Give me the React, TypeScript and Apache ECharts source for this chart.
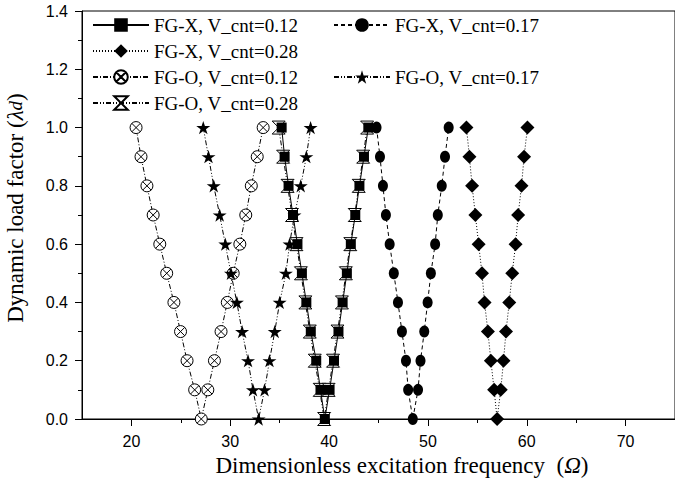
import React, { useEffect, useRef } from "react";
import * as echarts from "echarts";

// Shared y values (dynamic load factor) for every V-shaped curve
const yLevels = [1.0, 0.9, 0.8, 0.7, 0.6, 0.5, 0.4, 0.3, 0.2, 0.1, 0.0, 0.1, 0.2, 0.3, 0.4, 0.5, 0.6, 0.7, 0.8, 0.9, 1.0];

// x values (dimensionless excitation frequency) per series
const fgX012 = [35.2, 35.5, 35.9, 36.35, 36.8, 37.25, 37.7, 38.15, 38.7, 39.13, 39.57, 40.05, 40.5, 40.95, 41.37, 41.8, 42.2, 42.65, 43.07, 43.53, 43.97];
const fgX017 = [44.8, 45.15, 45.45, 45.75, 46.13, 46.55, 46.97, 47.37, 47.78, 48.0, 48.47, 49.0, 49.25, 49.63, 49.97, 50.3, 50.73, 51.0, 51.4, 51.73, 52.1];
const fgX028 = [53.9, 54.2, 54.47, 54.8, 55.13, 55.47, 55.73, 56.07, 56.37, 56.7, 57.0, 57.37, 57.65, 57.9, 58.23, 58.53, 58.87, 59.13, 59.47, 59.73, 60.07];
const fgO012 = [20.47, 20.97, 21.57, 22.2, 22.87, 23.57, 24.3, 24.97, 25.63, 26.4, 27.07, 27.73, 28.4, 29.07, 29.7, 30.3, 30.97, 31.57, 32.13, 32.73, 33.33];
const fgO017 = [27.27, 27.8, 28.33, 28.93, 29.5, 30.07, 30.67, 31.2, 31.8, 32.3, 32.87, 33.47, 33.97, 34.5, 35.0, 35.63, 36.0, 36.5, 37.13, 37.7, 38.13];
const fgO028 = [34.9, 35.35, 35.8, 36.25, 36.7, 37.15, 37.6, 38.05, 38.55, 39.05, 39.5, 39.95, 40.4, 40.85, 41.3, 41.7, 42.15, 42.6, 43.0, 43.45, 43.85];

const seriesNames = [
  "FG-X, V_cnt=0.12",
  "FG-X, V_cnt=0.17",
  "FG-X, V_cnt=0.28",
  "FG-O, V_cnt=0.12",
  "FG-O, V_cnt=0.17",
  "FG-O, V_cnt=0.28",
];

const xMin = 15;
const xMax = 75;
const xMajorTicks = [20, 30, 40, 50, 60, 70];
const xMinorTicks = [25, 35, 45, 55, 65];
const yMin = 0;
const yMax = 1.4;
const yStep = 0.2;

const CROSS_CIRCLE =
  "path://M0 10A10 10 0 1 1 20 10A10 10 0 1 1 0 10ZM2.93 2.93L17.07 17.07M17.07 2.93L2.93 17.07";
const STAR =
  "path://M10 0L12.25 6.91L19.51 6.91L13.63 11.18L15.88 18.09L10 13.82L4.12 18.09L6.37 11.18L0.49 6.91L7.75 6.91Z";
const HOURGLASS = "path://M0 0L20 0L0 20L20 20Z";

const SERIF = "'Liberation Serif', 'Times New Roman', serif";
const SANS = "'Liberation Sans', Arial, sans-serif";

function makeSeries(
  name: string,
  xs: number[],
  symbol: string,
  size: number | number[],
  dash: any,
  fill: string,
  z: number
) {
  return {
    name,
    type: "line",
    data: xs.map((x, i) => [x, yLevels[i]]),
    symbol,
    symbolSize: size,
    symbolKeepAspect: true,
    showSymbol: true,
    z,
    lineStyle: { color: "#000", width: 1, type: dash },
    itemStyle: {
      color: fill,
      borderColor: "#000",
      borderWidth: fill === "#000" ? 0 : 1,
    },
    emphasis: { disabled: true },
  };
}

export default function App() {
  const ref = useRef<HTMLDivElement>(null);

  useEffect(() => {
    if (!ref.current) return;
    const chart = echarts.init(ref.current, undefined, { renderer: "svg" });

    const legendCommon = {
      orient: "vertical",
      padding: 0,
      itemWidth: 56,
      itemHeight: 17,
      selectedMode: false,
      textStyle: { fontFamily: SERIF, fontSize: 19, color: "#000", lineHeight: 20 },
    };

    chart.setOption({
      animation: false,
      backgroundColor: "#fff",
      grid: {
        left: 82,
        top: 11,
        width: 600,
        height: 408,
        show: true,
        borderColor: "#000",
        borderWidth: 1,
        backgroundColor: "transparent",
      },
      legend: [
        {
          ...legendCommon,
          left: 92,
          top: 15,
          itemGap: 6,
          data: [seriesNames[0], seriesNames[2], seriesNames[3], seriesNames[5]],
        },
        {
          ...legendCommon,
          left: 333,
          top: 15,
          itemGap: 32,
          data: [seriesNames[1], seriesNames[4]],
        },
      ],
      xAxis: [
        {
          type: "value",
          min: xMin,
          max: xMax,
          axisLine: { show: true, lineStyle: { color: "#000", width: 1 } },
          axisTick: {
            show: true,
            inside: false,
            length: 7,
            customValues: xMajorTicks,
            lineStyle: { color: "#000" },
          },
          axisLabel: {
            customValues: xMajorTicks,
            margin: 14,
            color: "#000",
            fontFamily: SANS,
            fontSize: 16,
          },
          splitLine: { show: false },
        },
        {
          type: "value",
          position: "bottom",
          min: xMin,
          max: xMax,
          axisLine: { show: false },
          axisTick: {
            show: true,
            inside: false,
            length: 4,
            customValues: xMinorTicks,
            lineStyle: { color: "#000" },
          },
          axisLabel: { show: false },
          splitLine: { show: false },
        },
      ],
      yAxis: {
        type: "value",
        min: yMin,
        max: yMax,
        interval: yStep,
        axisLine: { show: true, lineStyle: { color: "#000", width: 1 } },
        axisTick: { show: true, inside: false, length: 7, lineStyle: { color: "#000" } },
        minorTick: { show: true, splitNumber: 2, length: 4, lineStyle: { color: "#000" } },
        axisLabel: {
          margin: 14,
          color: "#000",
          fontFamily: SANS,
          fontSize: 16,
          formatter: (v: number) => v.toFixed(1),
        },
        splitLine: { show: false },
      },
      series: [
        makeSeries(seriesNames[0], fgX012, "rect", 10, "solid", "#000", 4),
        makeSeries(seriesNames[1], fgX017, "circle", [10, 12], [4, 3], "#000", 2),
        makeSeries(seriesNames[2], fgX028, "diamond", 14, [1, 2], "#000", 2),
        makeSeries(seriesNames[3], fgO012, CROSS_CIRCLE, 12, [5, 2, 1, 2], "#fff", 2),
        makeSeries(seriesNames[4], fgO017, STAR, 14, [5, 2, 1, 2, 1, 2], "#000", 2),
        makeSeries(seriesNames[5], fgO028, HOURGLASS, 13, [5, 2, 1, 2, 1, 2], "#fff", 3),
      ],
      graphic: [
        {
          type: "text",
          x: 402,
          y: 465,
          style: {
            text: "{n|Dimensionless excitation frequency  (}{i|Ω}{n|)}",
            align: "center",
            verticalAlign: "middle",
            fill: "#000",
            rich: {
              n: { fontFamily: SERIF, fontSize: 23, fill: "#000" },
              i: { fontFamily: SERIF, fontSize: 23, fontStyle: "italic", fill: "#000" },
            },
          },
        },
        {
          type: "text",
          x: 15,
          y: 208,
          rotation: Math.PI / 2,
          style: {
            text: "{n|Dynamic load factor (}{i|λ}{s|d}{n|)}",
            align: "center",
            verticalAlign: "middle",
            fill: "#000",
            rich: {
              n: { fontFamily: SERIF, fontSize: 23, fill: "#000" },
              i: { fontFamily: SERIF, fontSize: 23, fontStyle: "italic", fill: "#000" },
              s: { fontFamily: SERIF, fontSize: 19, fontStyle: "italic", fill: "#000" },
            },
          },
        },
      ],
    });

    return () => chart.dispose();
  }, []);

  return (
    <div
      ref={ref}
      style={{ position: "fixed", left: 0, top: 0, width: 675, height: 480 }}
    />
  );
}
